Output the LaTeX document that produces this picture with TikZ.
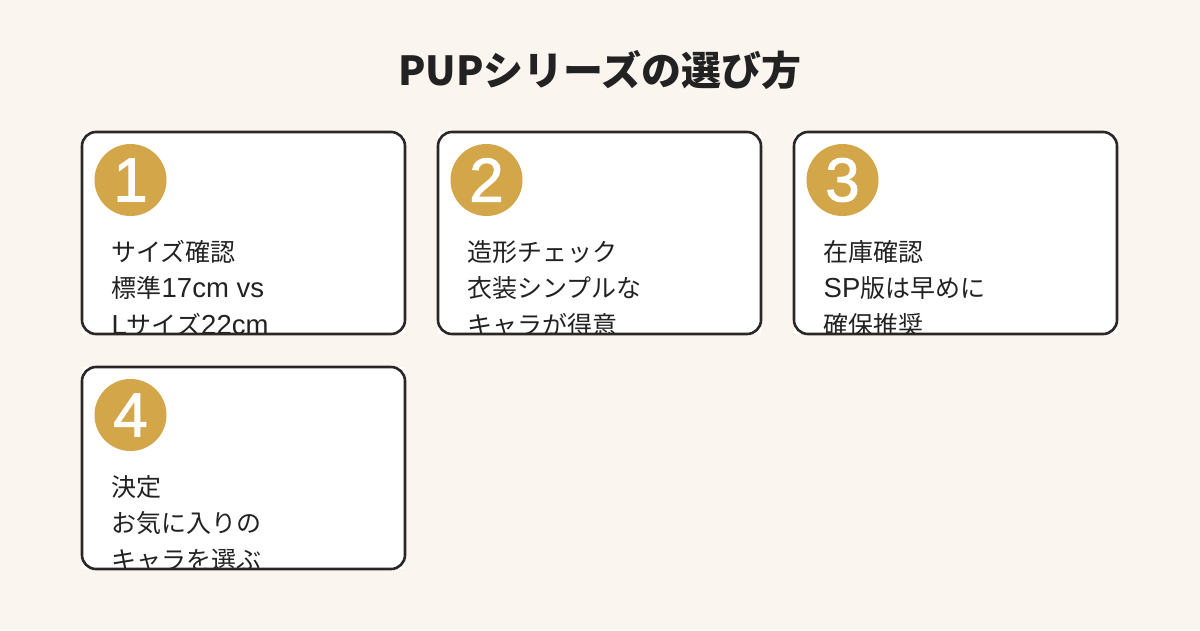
\documentclass[tikz,border=0pt]{standalone}
\usepackage{fontspec}
\setmainfont{Noto Sans CJK JP}
\newfontfamily\latinfont{Liberation Sans}[Scale=1.1]
\newfontfamily\digitfont{Liberation Sans}[FakeBold=1.5]
\usetikzlibrary{positioning}
\definecolor{paper}{HTML}{FAF6EF}
\definecolor{gold}{HTML}{D4A64A}
\definecolor{frame}{HTML}{2B2727}
\definecolor{ink}{HTML}{222222}
\tikzset{
  card/.style={rectangle,fill=white,minimum width=323pt,minimum height=202pt,
    anchor=north west,inner sep=0pt,outer sep=0pt},
  cardline/.style={draw=frame,line width=2.6pt,rounded corners=14pt},
  badge/.style={circle,fill=gold,minimum size=72pt,inner sep=0pt},
  badgenum/.style={text=white,font=\digitfont\fontsize{62}{62}\selectfont,inner sep=0pt},
  body/.style={text=ink,font=\fontsize{25}{36.5}\selectfont,align=left,
    anchor=north west,inner sep=0pt}
}
\newcommand{\lat}[1]{{\latinfont #1}}
\begin{document}
\begin{tikzpicture}[x=1pt,y=-1pt]
  \fill[paper] (0,0) rectangle (1200,630);
  \useasboundingbox (0,0) rectangle (1200,630);
%%
  % Title
  \node[text=ink,font=\fontsize{40}{40}\selectfont\bfseries] (title) at (600,70) {PUPシリーズの選び方};
  % Box: 1
\begin{scope}
  \node[card] (box1) at (82,132) {};
  \node[badge] (badge1) at ([xshift=48.5pt,yshift=-48pt]box1.north west) {};
  \node[badgenum] (num1) at (badge1.center) {1};
  \begin{scope}
    \clip[rounded corners=14pt] (box1.north west) rectangle (box1.south east);
    \node[body] (txt1) at ([xshift=29.5pt,yshift=-108pt]box1.north west) {サイズ確認\\標準\lat{17cm vs}\\\lat{L}サイズ\lat{22cm}};
  \end{scope}
  \draw[cardline] (box1.north west) rectangle (box1.south east);
\end{scope}
  % Box: 2
\begin{scope}
  \node[card,right=33pt of box1.north east,anchor=north west] (box2) {};
  \node[badge] (badge2) at ([xshift=48.5pt,yshift=-48pt]box2.north west) {};
  \node[badgenum] (num2) at (badge2.center) {2};
  \begin{scope}
    \clip[rounded corners=14pt] (box2.north west) rectangle (box2.south east);
    \node[body] (txt2) at ([xshift=29.5pt,yshift=-108pt]box2.north west) {造形チェック\\衣装シンプルな\\キャラが得意};
  \end{scope}
  \draw[cardline] (box2.north west) rectangle (box2.south east);
\end{scope}
  % Box: 3
\begin{scope}
  \node[card,right=33pt of box2.north east,anchor=north west] (box3) {};
  \node[badge] (badge3) at ([xshift=48.5pt,yshift=-48pt]box3.north west) {};
  \node[badgenum] (num3) at (badge3.center) {3};
  \begin{scope}
    \clip[rounded corners=14pt] (box3.north west) rectangle (box3.south east);
    \node[body] (txt3) at ([xshift=29.5pt,yshift=-108pt]box3.north west) {在庫確認\\\lat{SP}版は早めに\\確保推奨};
  \end{scope}
  \draw[cardline] (box3.north west) rectangle (box3.south east);
\end{scope}
  % Box: 4
\begin{scope}
  \node[card,below=33pt of box1.south west,anchor=north west] (box4) {};
  \node[badge] (badge4) at ([xshift=48.5pt,yshift=-48pt]box4.north west) {};
  \node[badgenum] (num4) at (badge4.center) {4};
  \begin{scope}
    \clip[rounded corners=14pt] (box4.north west) rectangle (box4.south east);
    \node[body] (txt4) at ([xshift=29.5pt,yshift=-108pt]box4.north west) {決定\\お気に入りの\\キャラを選ぶ};
  \end{scope}
  \draw[cardline] (box4.north west) rectangle (box4.south east);
\end{scope}
%
\end{tikzpicture}
\end{document}
